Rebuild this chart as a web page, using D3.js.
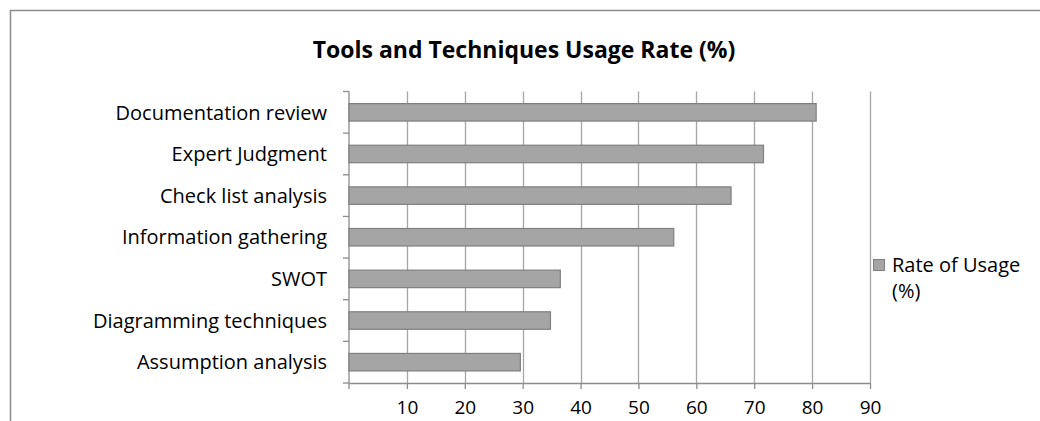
<!DOCTYPE html>
<html lang="en">
<head>
    <meta charset="UTF-8">
    <title>Tools and Techniques Usage Rate</title>
    <script src="https://cdn.jsdelivr.net/npm/d3@7"></script>
    <style>
        body { margin: 0; background: #fff; }
        svg text { font-family: "Open Sans", Lato, sans-serif; fill: #000; }
    </style>
</head>
<body>
    <div id="chart"></div>
    <script>
        // data (top to bottom)
        let categories = ['Documentation review', 'Expert Judgment', 'Check list analysis',
            'Information gathering', 'SWOT', 'Diagramming techniques', 'Assumption analysis']
        let rates = [80.7, 71.6, 66.0, 56.1, 36.5, 34.8, 29.6]
        let xTicks = [10, 20, 30, 40, 50, 60, 70, 80, 90]
        let seriesName = ['Rate of Usage', '(%)']

        let w = 1040
        let h = 421
        let plotLeft = 349, plotRight = 870, plotTop = 91.5, plotBottom = 383

        let svg = d3.select('#chart').append('svg')
            .attr('width', w)
            .attr('height', h)

        // chart border (right and bottom run off the picture)
        svg.append('rect')
            .attr('x', 10.5).attr('y', 10.5)
            .attr('width', w + 20).attr('height', h + 20)
            .attr('fill', 'none')
            .attr('stroke', '#8c8c8c')
            .attr('stroke-width', 1.5)

        svg.append('text')
            .attr('x', 524).attr('y', 58)
            .attr('text-anchor', 'middle')
            .style('font-size', '23px')
            .style('font-weight', 'bold')
            .text('Tools and Techniques Usage Rate (%)')

        let x = d3.scaleLinear().domain([0, 90]).range([plotLeft, plotRight])
        let y = d3.scaleBand().domain(categories).range([plotTop, plotBottom])
            .paddingInner(0.58).paddingOuter(0.29)

        // vertical gridlines
        svg.append('g').selectAll('line')
            .data(xTicks)
            .enter().append('line')
            .attr('x1', d => Math.round(x(d)) + 0.5)
            .attr('x2', d => Math.round(x(d)) + 0.5)
            .attr('y1', plotTop).attr('y2', plotBottom)
            .attr('stroke', '#a6a6a6')
            .attr('stroke-width', 1.3)

        // x axis
        let xAxis = d3.axisBottom(x).tickValues(xTicks).tickSizeInner(6).tickSizeOuter(0).tickPadding(12)
        let gx = svg.append('g')
            .attr('transform', `translate(0,${plotBottom})`)
            .call(xAxis)
        gx.select('.domain').attr('stroke', '#8c8c8c').attr('stroke-width', 1.3)
        gx.selectAll('.tick line').attr('stroke', '#8c8c8c').attr('stroke-width', 1.3)
        gx.selectAll('text').style('font-size', '19px')
        // tick at 0 on the axis origin
        svg.append('line')
            .attr('x1', plotLeft).attr('x2', plotLeft)
            .attr('y1', plotBottom).attr('y2', plotBottom + 6)
            .attr('stroke', '#8c8c8c').attr('stroke-width', 1.3)

        // y axis line with ticks between categories
        svg.append('line')
            .attr('x1', plotLeft).attr('x2', plotLeft)
            .attr('y1', plotTop).attr('y2', plotBottom)
            .attr('stroke', '#8c8c8c').attr('stroke-width', 1.3)
        svg.append('g').selectAll('line')
            .data(d3.range(categories.length + 1))
            .enter().append('line')
            .attr('x1', plotLeft - 6).attr('x2', plotLeft)
            .attr('y1', i => plotTop + i * y.step())
            .attr('y2', i => plotTop + i * y.step())
            .attr('stroke', '#8c8c8c').attr('stroke-width', 1.3)

        // category labels
        svg.append('g').selectAll('text')
            .data(categories)
            .enter().append('text')
            .attr('x', 327)
            .attr('y', d => y(d) + y.bandwidth() / 2)
            .attr('dy', '0.36em')
            .attr('text-anchor', 'end')
            .style('font-size', '20px')
            .text(d => d)

        // bars
        svg.append('g').selectAll('rect')
            .data(categories)
            .enter().append('rect')
            .attr('x', plotLeft)
            .attr('y', d => y(d))
            .attr('width', (d, i) => x(rates[i]) - plotLeft)
            .attr('height', y.bandwidth())
            .attr('fill', '#a5a5a5')
            .attr('stroke', '#7f7f7f')
            .attr('stroke-width', 1.2)

        // legend
        let legend = svg.append('g')
        legend.append('rect')
            .attr('x', 873.5).attr('y', 259.5)
            .attr('width', 11).attr('height', 11)
            .attr('fill', '#a5a5a5')
            .attr('stroke', '#7f7f7f')
        legend.selectAll('text')
            .data(seriesName)
            .enter().append('text')
            .attr('x', 892)
            .attr('y', (d, i) => 272 + i * 26)
            .style('font-size', '20px')
            .text(d => d)
    </script>
</body>
</html>
